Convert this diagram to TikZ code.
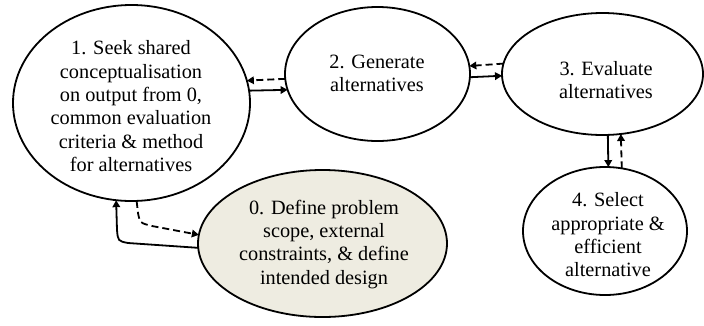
\documentclass[tikz,border=0pt]{standalone}
\usepackage{fontspec}
\setmainfont{Liberation Serif}
\usetikzlibrary{shapes.geometric,arrows.meta}
\definecolor{stagefill}{HTML}{EEECE1}
\begin{document}
\begin{tikzpicture}[x=1pt,y=-1pt,
  stage/.style={ellipse,draw=black,line width=1.8pt,fill=white,inner sep=0pt,outer sep=0pt},
  stagetext/.style={font=\fontsize{20.3}{23.3}\selectfont,align=center,inner sep=0pt},
  flow/.style={line width=1.8pt,-{Triangle[length=7pt,width=7.5pt]}},
  backflow/.style={flow,dash pattern=on 7pt off 4pt}]
\useasboundingbox (0,0) rectangle (704,325);

% stage outlines
\node[stage,minimum width=237pt,minimum height=196pt] (s1) at (131.5,103) {};
\node[stage,minimum width=185pt,minimum height=134pt] (s2) at (377.5,74) {};
\node[stage,minimum width=201pt,minimum height=122pt] (s3) at (602.5,74) {};
\node[stage,minimum width=164pt,minimum height=128pt] (s4) at (605,231) {};
\node[stage,fill=stagefill,minimum width=249pt,minimum height=147pt] (s0) at (322.5,243.5) {};

% stage texts
\node[stagetext] (t1) at (131,108.5) {\strut 1. Seek shared\\conceptualisation\\on output from 0,\\common evaluation\\criteria \& method\\for alternatives\strut};
\node[stagetext] (t2) at (377,75.5) {\strut 2. Generate\\alternatives\strut};
\node[stagetext] (t3) at (606,82) {\strut 3. Evaluate\\alternatives\strut};
\node[stagetext] (t4) at (608,237) {\strut 4. Select\\appropriate \&\\efficient\\alternative\strut};
\node[stagetext] (t0) at (324,244.5) {\strut 0. Define problem\\scope, external\\constraints, \& define\\intended design\strut};

% forward (solid) and feedback (dashed) links
\draw[flow] (s1.6.3) -- (s2.190.1);
\draw[backflow] (s2.183.7) -- (s1.11.3);
\draw[flow] (s2.358.1) -- (s3.181.7);
\draw[backflow] (s3.174.8) -- (s2.5.6);
\draw[flow] (s3.275.2) -- (s4.87.3);
\draw[backflow] (s4.75.7) -- (s3.287.1);
\draw[flow] (s0.182.1) -- (128,243) .. controls (118,241) .. (117,230) -- (s1.261.5);
\draw[backflow] (s1.273.2) -- (138,213) .. controls (140,223) .. (152,226) -- (s0.176.1);
\end{tikzpicture}
\end{document}
